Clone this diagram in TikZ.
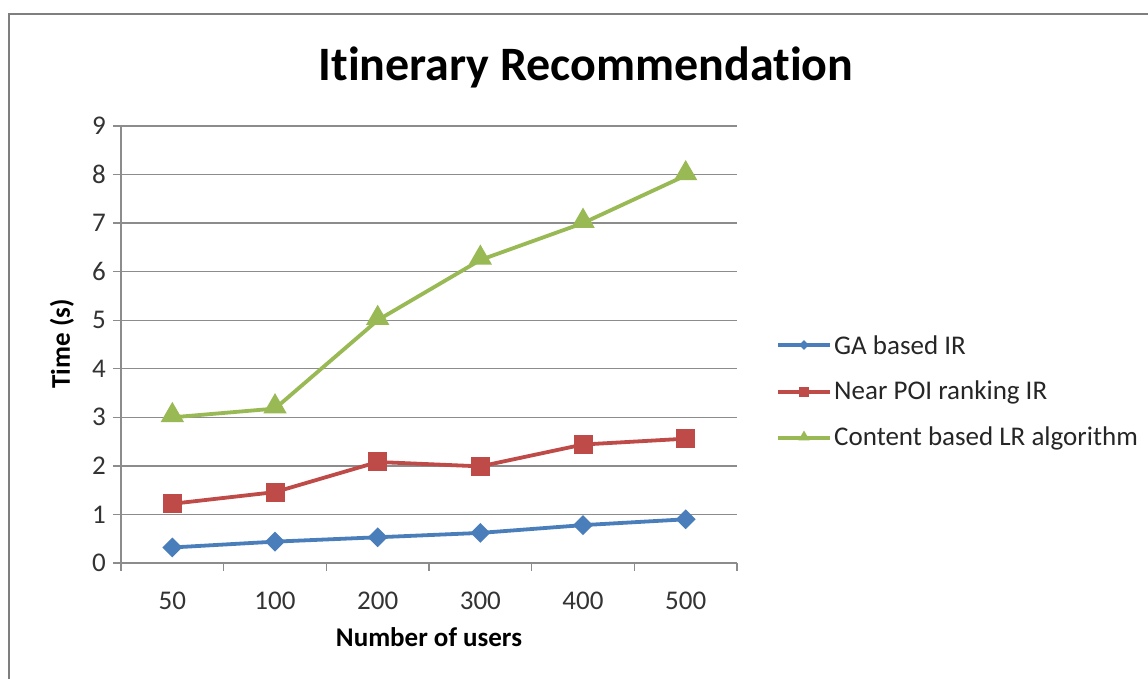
\documentclass[tikz,border=0pt]{standalone}
\usepackage{fontspec}
\setmainfont{Carlito}[Ligatures=NoCommon]
\usetikzlibrary{shapes.geometric}
\definecolor{gablue}{HTML}{4A7EBB}
\definecolor{poired}{HTML}{BE4B48}
\definecolor{lrgreen}{HTML}{98B954}
\definecolor{gridgray}{HTML}{8C8C8C}
\definecolor{framegray}{HTML}{7F7F7F}
\tikzset{
  gridline/.style={gridgray, line width=1.3pt},
  axisline/.style={gridgray, line width=1.3pt},
  serieslinestyle/.style={line width=3.8pt, line join=round},
  gamark/.style={diamond, fill=gablue, inner sep=0pt, minimum width=20pt, minimum height=20pt},
  poimark/.style={rectangle, fill=poired, inner sep=0pt, minimum size=19pt},
  lrmark/.style={regular polygon, regular polygon sides=3, fill=lrgreen, inner sep=0pt, minimum size=27pt},
  gamarksmall/.style={diamond, fill=gablue, inner sep=0pt, minimum width=10pt, minimum height=10pt},
  poimarksmall/.style={rectangle, fill=poired, inner sep=0pt, minimum size=10pt},
  lrmarksmall/.style={regular polygon, regular polygon sides=3, fill=lrgreen, inner sep=0pt, minimum size=13pt},
  ticklabel/.style={font=\fontsize{27}{32}\selectfont, text=black!80, inner sep=0pt},
  axistitle/.style={font=\fontsize{27}{32}\selectfont\bfseries, inner sep=0pt},
  legendtext/.style={font=\fontsize{27}{32}\selectfont, text=black!85, anchor=west, inner sep=0pt}
}
\begin{document}
\begin{tikzpicture}[x=1pt,y=-1pt]
\useasboundingbox (0,0) rectangle (1148,679);
\fill[white] (0,0) rectangle (1148,679);
\draw[framegray, line width=2pt] (9,700) -- (9,14) -- (1170,14);

\node[font=\fontsize{48}{54}\selectfont\bfseries, inner sep=0pt] (title) at (586,67) {Itinerary Recommendation};
\node[axistitle, rotate=90] (ytitle) at (62,344) {Time (s)};
\node[axistitle] (xtitle) at (429,637) {Number of users};

\begin{scope}[xshift=121pt, yshift=-563pt, x=102.67pt, y=48.56pt]
  % gridlines and y ticks
  \foreach \v in {1,...,9} {
    \draw[gridline] (-0.08,\v) -- (6,\v);
  }
  \foreach \v in {0,...,9} {
    \node[ticklabel, anchor=east] (yl\v) at (-0.145,\v) {\v};
  }
  \draw[axisline] (-0.08,0) -- (6,0);
  \draw[axisline] (0,0) -- (0,9);
  \foreach \i in {0,...,6} {
    \draw[axisline] (\i,0) -- (\i,-0.17);
  }
  \foreach \lab [count=\i from 0] in {50,100,200,300,400,500} {
    \node[ticklabel] (xl\i) at (\i+0.5,-0.77) {\lab};
  }

  % data coordinates
  \coordinate (g1) at (0.5,0.32);
  \coordinate (g2) at (1.5,0.44);
  \coordinate (g3) at (2.5,0.53);
  \coordinate (g4) at (3.5,0.62);
  \coordinate (g5) at (4.5,0.78);
  \coordinate (g6) at (5.5,0.90);

  \coordinate (p1) at (0.5,1.22);
  \coordinate (p2) at (1.5,1.46);
  \coordinate (p3) at (2.5,2.08);
  \coordinate (p4) at (3.5,1.99);
  \coordinate (p5) at (4.5,2.44);
  \coordinate (p6) at (5.5,2.56);

  \coordinate (c1) at (0.5,3.0);
  \coordinate (c2) at (1.5,3.18);
  \coordinate (c3) at (2.5,5.0);
  \coordinate (c4) at (3.5,6.24);
  \coordinate (c5) at (4.5,7.0);
  \coordinate (c6) at (5.5,7.98);

  \draw[serieslinestyle, gablue] (g1) -- (g2) -- (g3) -- (g4) -- (g5) -- (g6);
  \draw[serieslinestyle, poired] (p1) -- (p2) -- (p3) -- (p4) -- (p5) -- (p6);
  \draw[serieslinestyle, lrgreen] (c1) -- (c2) -- (c3) -- (c4) -- (c5) -- (c6);

  \foreach \k in {1,...,6} {
    \node[gamark] (gm\k) at (g\k) {};
    \node[poimark] (pm\k) at (p\k) {};
    \node[lrmark, yshift=2pt] (cm\k) at (c\k) {};
  }
\end{scope}

% legend
\coordinate (la1) at (778,345);
\coordinate (lb1) at (830,345);
\coordinate (la2) at (778,392);
\coordinate (lb2) at (830,392);
\coordinate (la3) at (778,438);
\coordinate (lb3) at (830,438);
\draw[serieslinestyle, gablue] (la1) -- (lb1);
\draw[serieslinestyle, poired] (la2) -- (lb2);
\draw[serieslinestyle, lrgreen] (la3) -- (lb3);
\node[gamarksmall] (lm1) at (804,345) {};
\node[poimarksmall] (lm2) at (804,392) {};
\node[lrmarksmall, yshift=1pt] (lm3) at (804,438) {};
\node[legendtext] (lt1) at (834,345) {GA based IR};
\node[legendtext] (lt2) at (834,392) {Near POI ranking IR};
\node[legendtext] (lt3) at (834,438) {Content based LR algorithm};
\end{tikzpicture}
\end{document}
